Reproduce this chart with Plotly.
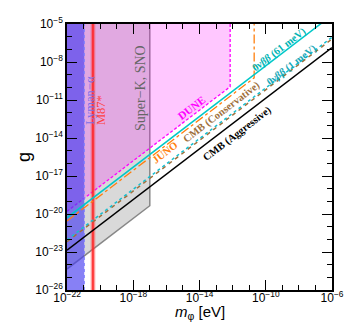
import plotly.graph_objects as go

# mass grid for the straight bounds (g grows linearly with m)
m_line = [1e-22, 1e-6]
g_0vbb_61 = [5.0e-21, 5.0e-5]
g_0vbb_1 = [9.0e-23, 9.0e-7]
g_cmb_cons = [6.5e-23, 6.5e-7]
g_cmb_aggr = [1.4e-23, 1.4e-7]

# JUNO and DUNE: diagonal then vertical
m_juno = [1e-22, 2.0e-11, 2.0e-11]
g_juno = [2.8e-21, 5.6e-10, 1e-5]
m_dune = [1e-22, 7.1e-13, 7.1e-13]
g_dune = [1.6e-20, 1.12e-10, 1e-5]

# Super-K, SNO region
m_superk = [1e-22, 1e-17, 1e-17, 1e-22]
g_superk = [4.5e-25, 4.5e-20, 1e-5, 1e-5]

# Lyman-alpha and M87* excluded masses
m_lyman = [1e-22, 1.1e-21]
m_m87 = [2.7e-21, 5.1e-21]
m87_center = 3.7e-21
g_span = [1e-26, 1e-5]

# tick exponents
x_major = [-22, -18, -14, -10, -6]
y_major = [-26, -23, -20, -17, -14, -11, -8, -5]
x_decades = list(range(-22, -5))
y_decades = list(range(-26, -4))

fig = go.Figure()

# Super-K, SNO (grey)
fig.add_trace(go.Scatter(
    x=m_superk + [m_superk[0]], y=g_superk + [g_superk[0]],
    fill='toself', fillcolor='rgba(128,128,128,0.3)',
    line=dict(color='rgba(0,0,0,0)', width=0), mode='lines', hoverinfo='skip'
))
fig.add_trace(go.Scatter(
    x=m_superk[:3], y=g_superk[:3], mode='lines',
    line=dict(color='rgba(110,110,110,0.8)', width=1.5), hoverinfo='skip'
))

# DUNE (pink)
fig.add_trace(go.Scatter(
    x=m_dune + [m_dune[0]], y=g_dune + [1e-5],
    fill='toself', fillcolor='rgba(255,0,255,0.22)',
    line=dict(color='rgba(0,0,0,0)', width=0), mode='lines', hoverinfo='skip'
))
fig.add_trace(go.Scatter(
    x=m_dune, y=g_dune, mode='lines',
    line=dict(color='#ff00ff', width=1.3, dash='3px,2px'), hoverinfo='skip'
))

# Lyman-alpha (blue)
fig.add_trace(go.Scatter(
    x=[m_lyman[0], m_lyman[1], m_lyman[1], m_lyman[0], m_lyman[0]],
    y=[g_span[0], g_span[0], g_span[1], g_span[1], g_span[0]],
    fill='toself', fillcolor='rgba(70,60,240,0.65)',
    line=dict(color='rgba(0,0,0,0)', width=0), mode='lines', hoverinfo='skip'
))
fig.add_trace(go.Scatter(
    x=[m_lyman[1], m_lyman[1]], y=g_span, mode='lines',
    line=dict(color='#8080ff', width=1.2, dash='dot'), hoverinfo='skip'
))

# M87* (red)
fig.add_trace(go.Scatter(
    x=[m_m87[0], m_m87[1], m_m87[1], m_m87[0], m_m87[0]],
    y=[g_span[0], g_span[0], g_span[1], g_span[1], g_span[0]],
    fill='toself', fillcolor='rgba(255,60,60,0.5)',
    line=dict(color='rgba(0,0,0,0)', width=0), mode='lines', hoverinfo='skip'
))
fig.add_trace(go.Scatter(
    x=[m87_center, m87_center], y=g_span, mode='lines',
    line=dict(color='#ff2020', width=1.5), hoverinfo='skip'
))

# bounds
fig.add_trace(go.Scatter(x=m_juno, y=g_juno, mode='lines',
                         line=dict(color='#ff7f0e', width=1.3, dash='dashdot')))
fig.add_trace(go.Scatter(x=m_line, y=g_0vbb_61, mode='lines',
                         line=dict(color='#00c8c8', width=1.5)))
fig.add_trace(go.Scatter(x=m_line, y=g_cmb_cons, mode='lines',
                         line=dict(color='#a0703c', width=1.5, dash='4px,4px')))
fig.add_trace(go.Scatter(x=m_line, y=g_0vbb_1, mode='lines',
                         line=dict(color='#17becf', width=1.5, dash='dot')))
fig.add_trace(go.Scatter(x=m_line, y=g_cmb_aggr, mode='lines',
                         line=dict(color='black', width=1.5)))

serif = 'Liberation Serif'
ang = -37.4
labels = [
    ('Lyman−α', -20.62, -11.0, -90, '#7a6ee8', 12.5, False),
    ('M87*', -19.95, -11.8, -90, '#ff4040', 12.5, False),
    ('Super−K, SNO', -17.53, -10.05, -90, '#666666', 14, False),
    ('DUNE', -14.51, -11.63, ang, '#ff00ff', 11, True),
    ('JUNO', -16.08, -15.18, ang, '#ff7f0e', 10.5, True),
    ('CMB (Conservative)', -12.64, -11.95, ang, '#a0703c', 10.5, True),
    ('CMB (Aggressive)', -11.73, -13.68, ang, 'black', 10.5, True),
    ('0<i>νββ</i> (61 meV)', -9.2, -7.05, ang, '#00b4b4', 10.5, True),
    ('0<i>νββ</i> (1 meV)', -8.41, -8.24, ang, '#17a8b8', 10.5, True),
]
for text, lx, ly, ta, col, fs, bold in labels:
    fig.add_annotation(
        x=lx, y=ly, xref='x', yref='y', text=f'<b>{text}</b>' if bold else text,
        textangle=ta, showarrow=False, xanchor='center', yanchor='middle',
        font=dict(family=serif, size=fs, color=col)
    )

# axis titles
fig.add_annotation(x=0.5, y=-0.085, xref='paper', yref='paper',
                   xanchor='center', yanchor='middle',
                   text='<i>m</i><sub>φ</sub> [eV]', showarrow=False,
                   font=dict(family='Liberation Sans', size=15, color='black'))
fig.add_annotation(x=-0.162, y=0.5, xref='paper', yref='paper', text='g',
                   xanchor='center', yanchor='middle',
                   textangle=-90, showarrow=False,
                   font=dict(family='Liberation Sans', size=18, color='black'))

axis_common = dict(
    type='log', showgrid=False, zeroline=False, automargin=False,
    showline=True, linecolor='black', linewidth=1.5, mirror='allticks',
    ticks='inside', ticklen=10, tickwidth=1.2, tickcolor='black',
    tickmode='array',
    tickfont=dict(family='Liberation Sans', size=12, color='black'),
)

fig.update_layout(
    width=357, height=324,
    margin=dict(l=59, r=33, t=16, b=42),
    plot_bgcolor='white', paper_bgcolor='white',
    showlegend=False,
    font=dict(family='Liberation Sans', color='black'),
)
fig.update_xaxes(
    range=[-22, -6],
    tickvals=[10.0 ** k for k in x_major],
    ticktext=[f'10<sup>−{-k}</sup>' for k in x_major],
    ticklabelstandoff=-4,
    minor=dict(tickmode='array', tickvals=[10.0 ** k for k in x_decades],
               ticks='inside', ticklen=5, tickwidth=1, tickcolor='black'),
    **axis_common
)
fig.update_yaxes(
    range=[-26, -5],
    tickvals=[10.0 ** k for k in y_major],
    ticktext=[f'10<sup>−{-k}</sup>' for k in y_major],
    minor=dict(tickmode='array', tickvals=[10.0 ** k for k in y_decades],
               ticks='inside', ticklen=5, tickwidth=1, tickcolor='black'),
    **axis_common
)

fig.write_html('out.html')
